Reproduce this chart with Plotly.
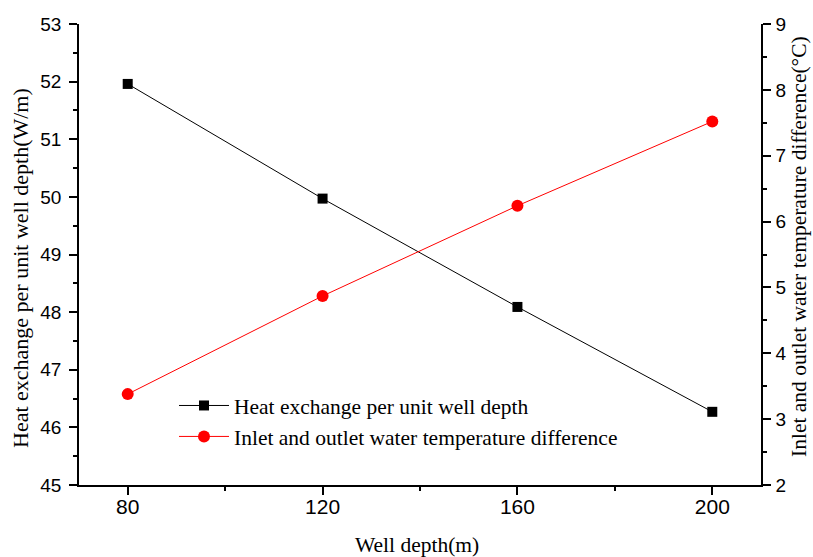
import plotly.graph_objects as go

# Well depth (m)
well_depth = [80, 120, 160, 200]
# Heat exchange per unit well depth (W/m)
heat_exchange = [51.96, 49.97, 48.09, 46.27]
# Inlet/outlet water temperature difference (°C)
temp_difference = [3.38, 4.87, 6.24, 7.52]

left_ticks = [45, 46, 47, 48, 49, 50, 51, 52, 53]
right_ticks = [2, 3, 4, 5, 6, 7, 8, 9]
x_ticks = [80, 120, 160, 200]

serif = "Liberation Serif"
sans = "Liberation Sans"

W, H = 813, 557
ML, MR, MT, MB = 79, 52, 24, 72
PW, PH = W - ML - MR, H - MT - MB


def px_x(px):
    return (px - ML) / PW


def px_y(py):
    return (H - MB - py) / PH


fig = go.Figure()
fig.add_trace(go.Scatter(
    x=well_depth, y=heat_exchange, mode="lines+markers",
    name="Heat exchange per unit well depth",
    line=dict(color="black", width=1),
    marker=dict(symbol="square", size=10, color="black"),
    yaxis="y",
))
fig.add_trace(go.Scatter(
    x=well_depth, y=temp_difference, mode="lines+markers",
    name="Inlet and outlet water temperature difference",
    line=dict(color="#ff0000", width=1),
    marker=dict(symbol="circle", size=12, color="#ff0000"),
    yaxis="y2",
))

axis_common = dict(
    showgrid=False, zeroline=False, showline=True, linecolor="black",
    linewidth=1.5, ticks="outside", ticklen=8, tickwidth=1.5,
    tickcolor="black", automargin=False,
)
minor_common = dict(ticks="outside", ticklen=4, tickwidth=1.5, tickcolor="black")

fig.update_layout(
    width=W, height=H,
    margin=dict(l=ML, r=MR, t=MT, b=MB),
    paper_bgcolor="white", plot_bgcolor="white",
    showlegend=True,
    legend=dict(
        x=px_x(174), y=px_y(385), xanchor="left", yanchor="top",
        font=dict(family=serif, size=21.5, color="black"),
        bgcolor="rgba(0,0,0,0)", itemwidth=50, tracegroupgap=0,
    ),
    xaxis=dict(
        **axis_common, range=[70, 210], tickvals=x_ticks,
        tickfont=dict(family=sans, size=21, color="black"),
        ticklabelstandoff=-6,
        minor=dict(**minor_common, dtick=20, tick0=80),
    ),
    yaxis=dict(
        **axis_common, range=[45, 53], tickvals=left_ticks,
        tickfont=dict(family=sans, size=19, color="black"),
        ticklabelstandoff=4,
        minor=dict(**minor_common, dtick=0.5, tick0=45),
    ),
    yaxis2=dict(
        **axis_common, range=[2, 9], tickvals=right_ticks,
        overlaying="y", side="right",
        tickfont=dict(family=sans, size=19, color="black"),
        ticklabelstandoff=1,
        minor=dict(**minor_common, dtick=0.5, tick0=2),
    ),
)

# Axis titles
title_font = dict(family=serif, color="black")
fig.add_annotation(
    text="Well depth(m)", xref="paper", yref="paper",
    x=px_x(417), y=px_y(545), xanchor="center", yanchor="middle",
    showarrow=False, font=dict(**title_font, size=21.5),
)
fig.add_annotation(
    text="Heat exchange per unit well depth(W/m)", xref="paper", yref="paper",
    x=px_x(20), y=px_y(268), xanchor="center", yanchor="middle",
    textangle=-90, showarrow=False, font=dict(**title_font, size=22),
)
fig.add_annotation(
    text="Inlet and outlet water temperature difference(°C)",
    xref="paper", yref="paper",
    x=px_x(799), y=px_y(247), xanchor="center", yanchor="middle",
    textangle=-90, showarrow=False, font=dict(**title_font, size=21.5),
)

fig.write_html("out.html")
